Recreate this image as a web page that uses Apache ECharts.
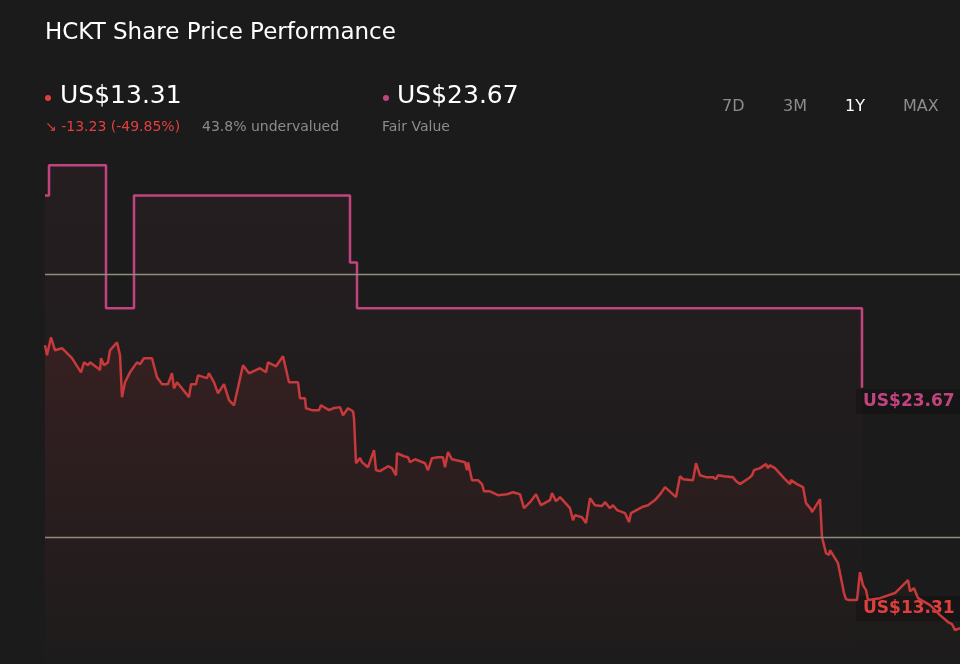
<!DOCTYPE html>
<html>
<head>
<meta charset="utf-8">
<script src="https://cdn.jsdelivr.net/npm/echarts@6/dist/echarts.min.js"></script>
<style>
  html, body { margin: 0; padding: 0; background: #1b1b1b; }
  #chart { width: 960px; height: 664px; }
</style>
</head>
<body>
<div id="chart"></div>
<script>
// time index (trading-day scale, 45 = one year ago, 960 = today)
const priceT = [45,47,51,53,55,62,72,81,84,88,90,98,100,101,104,108,110,117,120,122,125,130,137,140,144,152,157,162,168,172,174,177,189,191,196,198,207,209,214,218,224,229,234,243,249,260,266,268,276,283,289,298,300,305,306,312,319,321,329,333,340,343,348,353,
  354,356,360,362,368,374,376,380,388,392,396,397,404,408,410,415,425,428,432,438,443,445,448,452,465,467,468,472,478,482,484,490,498,507,513,520,524,530,536,541,550,552,556,560,570,573,575,582,586,590,595,602,605,610,613,617,625,629,631,642,648,655,661,665,
  676,680,683,693,696,700,706,713,716,718,724,733,736,740,749,752,754,760,766,768,770,775,784,790,791,797,803,806,811,812,820,822,826,829,830,838,844,846,849,857,860,863,866,868,880,895,900,903,908,910,914,918,930,940,948,952,955,960]
const price = [25.51,25.08,25.85,25.85,25.29,25.38,24.95,24.34,24.77,24.65,24.77,24.52,24.43,24.95,24.65,24.77,25.29,25.64,25.08,23.27,23.91,24.34,24.77,24.69,24.95,24.95,24.13,23.83,23.83,24.30,23.65,23.91,23.27,23.83,23.83,24.21,24.09,24.30,23.91,23.44,23.83,23.14,22.92,24.65,24.30,24.52,24.34,24.77,24.60,25.03,23.91,23.91,23.22,23.22,22.79,22.71,22.71,22.92,22.71,22.79,22.84,22.49,22.79,22.66,
  22.36,20.42,20.64,20.46,20.25,20.98,20.12,20.08,20.29,20.21,19.90,20.85,20.72,20.68,20.46,20.59,20.42,20.12,20.64,20.68,20.68,20.25,20.90,20.59,20.46,20.12,20.46,19.69,19.69,19.52,19.21,19.21,19.04,19.08,19.17,19.08,18.48,18.74,19.08,18.61,18.83,19.13,18.78,18.96,18.48,17.96,18.18,18.09,17.84,18.91,18.61,18.57,18.74,18.48,18.61,18.40,18.27,17.88,18.27,18.53,18.61,18.83,19.13,19.39,
  18.96,19.86,19.73,19.69,20.42,19.90,19.82,19.82,19.73,19.90,19.86,19.82,19.65,19.52,19.78,19.90,20.12,20.21,20.38,20.21,20.33,20.21,19.78,19.52,19.69,19.52,19.39,18.70,18.44,18.31,18.87,17.23,16.54,16.46,16.67,16.11,14.82,14.56,14.52,14.52,15.72,15.16,14.95,14.52,14.60,14.82,15.03,15.16,15.38,14.90,15.03,14.60,14.30,13.87,13.57,13.48,13.22,13.31]
const fairT = [45,49,106,134,350,357,862]
const fairValue = [31.97,33.27,27.10,31.97,29.08,27.10,23.67]
const gridLevels = [28.57,17.23]
const ranges = ['7D','3M','1Y','MAX']

const chart = echarts.init(document.getElementById('chart'))
const pair = (t, v) => t.map((x, i) => [x, v[i]])
const font = 'DejaVu Sans'

const option = {
  backgroundColor: '#1b1b1b',
  animation: false,
  textStyle: { fontFamily: font },
  grid: { left: 45, right: 0, top: 150, bottom: 0 },
  xAxis: { type: 'value', min: 45, max: 960, show: false },
  yAxis: { type: 'value', min: 11.76, max: 33.93, show: false },
  series: [
    {
      type: 'line',
      data: pair(fairT, fairValue),
      step: 'end',
      symbol: 'none',
      lineStyle: { color: '#c2447f', width: 2.5 },
      areaStyle: {
        color: new echarts.graphic.LinearGradient(0, 0, 0, 1, [
          { offset: 0, color: 'rgba(150,60,100,0.12)' },
          { offset: 1, color: 'rgba(150,60,100,0)' }
        ])
      }
    },
    {
      type: 'line',
      data: pair(priceT, price),
      symbol: 'none',
      lineStyle: { color: '#c8393b', width: 2.5 },
      areaStyle: {
        color: new echarts.graphic.LinearGradient(0, 0, 0, 1, [
          { offset: 0, color: 'rgba(150,45,45,0.25)' },
          { offset: 1, color: 'rgba(150,45,45,0.02)' }
        ])
      },
      markLine: {
        silent: true,
        symbol: 'none',
        label: { show: false },
        lineStyle: { color: '#918d7c', type: 'solid', width: 1.3 },
        data: gridLevels.map(v => ({ yAxis: v }))
      }
    }
  ],
  graphic: [
    { type: 'text', left: 45, top: 22, style: { text: 'HCKT Share Price Performance', fill: '#fff', font: '23px ' + font } },
    { type: 'circle', shape: { cx: 48, cy: 98, r: 3 }, style: { fill: '#e0413f' } },
    { type: 'text', left: 60, top: 84, style: { text: 'US$13.31', fill: '#fff', font: '25px ' + font } },
    { type: 'text', left: 45, top: 120, style: { text: '↘ -13.23 (-49.85%)', fill: '#e0413f', font: '14px ' + font } },
    { type: 'text', left: 202, top: 120, style: { text: '43.8% undervalued', fill: '#8c8c8c', font: '14px ' + font } },
    { type: 'circle', shape: { cx: 386, cy: 98, r: 3 }, style: { fill: '#c2447f' } },
    { type: 'text', left: 397, top: 84, style: { text: 'US$23.67', fill: '#fff', font: '25px ' + font } },
    { type: 'text', left: 382, top: 120, style: { text: 'Fair Value', fill: '#8c8c8c', font: '14px ' + font } },
    ...ranges.map((r, i) => ({
      type: 'text', left: [722, 783, 845, 903][i], top: 99,
      style: { text: r, fill: r === '1Y' ? '#fff' : '#8c8c8c', font: '16px ' + font }
    })),
    { type: 'text', left: 856, top: 389, style: { text: 'US$23.67', fill: '#c2447f', font: 'bold 17px ' + font, backgroundColor: 'rgba(20,20,20,0.8)', padding: [4, 7] } },
    { type: 'text', left: 856, top: 596, style: { text: 'US$13.31', fill: '#e0413f', font: 'bold 17px ' + font, backgroundColor: 'rgba(20,20,20,0.8)', padding: [4, 7] } }
  ]
}
chart.setOption(option)
</script>
</body>
</html>
